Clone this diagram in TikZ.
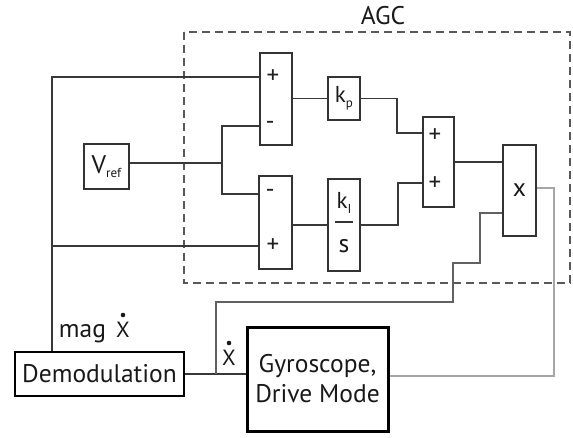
\documentclass[tikz,border=0pt]{standalone}
\usepackage{fontspec}
\setmainfont{PT Sans}
\newcommand{\mysub}[2]{{\fontsize{#1}{#1}\selectfont\raisebox{-0.35em}{#2}}}
\begin{document}
\begin{tikzpicture}[x=1pt,y=-1pt,
  blk/.style={draw=black!80, line width=1.5pt, inner sep=0pt},
  wire/.style={draw=black!78, line width=1.2pt},
  fb/.style={draw=black!62, line width=1.2pt},
  gw/.style={draw=black!35, line width=1.2pt},
  agcbox/.style={draw=black!65, line width=1.4pt, dash pattern=on 8pt off 5pt},
  lbl/.style={inner sep=0pt, text=black!90, font=\fontsize{25.5}{30}\selectfont},
  sgn/.style={inner sep=0pt, text=black!88, font=\fontsize{25}{26}\selectfont},
  dotx/.style={inner sep=0pt, text=black!90, font=\fontsize{22}{24}\selectfont}]
\useasboundingbox (0,0) rectangle (573,437);

% AGC frame
\draw[agcbox] (184,32) rectangle (570,283);
\node[lbl] (agc) at (383,16) {AGC};

% blocks
\node[blk, minimum width=32pt, minimum height=92pt] (s1) at (276,99) {};
\node[blk, minimum width=33pt, minimum height=93pt] (s2) at (275.5,222.5) {};
\node[blk, minimum width=32pt, minimum height=43pt, lbl, font=\fontsize{23}{26}\selectfont] (kp) at (344,98.5) {k\mysub{13}{p}};
\node[blk, minimum width=32pt, minimum height=92pt] (ki) at (344,225) {};
\node[blk, minimum width=31pt, minimum height=90pt] (s3) at (438.5,162) {};
\node[blk, minimum width=33pt, minimum height=91pt, lbl] (xb) at (519.5,190.5) {x};
\node[blk, minimum width=45pt, minimum height=45pt, lbl] (vref) at (106.5,166.5) {V\mysub{13}{ref}};
\node[blk, line width=2.2pt, draw=black, minimum width=169pt, minimum height=44pt, lbl] (demod) at (99.5,374) {Demodulation};
\node[blk, line width=3pt, draw=black, minimum width=141pt, minimum height=104pt, lbl, align=center] (gyro) at (317.5,379) {Gyroscope,\\Drive Mode};

% signs
\node[sgn] (p1) at (273,77) {+};
\node[sgn] (m1) at (270,125) {-};
\node[sgn] (m2) at (270,193) {-};
\node[sgn] (p2) at (273,246) {+};
\node[sgn] (p3) at (435,136) {+};
\node[sgn] (p4) at (435,184) {+};

% ki / s
\node[lbl, font=\fontsize{23}{26}\selectfont] (kin) at (344,203) {k\mysub{13}{I}};
\draw[black!80, line width=1.8pt] (335,222) -- (353,222);
\node[lbl] (kis) at (344,246) {s};

% left feedback to summers
\coordinate (lx) at (52,77);
\coordinate (lb) at (52,246);
\draw[wire] (demod.north -| lx) -- (lx) -- (lx -| s1.west);
\draw[wire] (lb) -- (lb -| s2.west);

% Vref distribution
\coordinate (j) at (222,163);
\coordinate (ju) at (222,126);
\coordinate (jd) at (222,194);
\draw[wire] (vref.east |- j) -- (j);
\draw[wire] (ju -| s1.west) -- (ju) -- (jd) -- (jd -| s2.west);

% kp and ki paths
\draw[wire] (s1.east |- kp.west) -- (kp.west);
\coordinate (k1) at (397,133);
\draw[wire] (kp.east) -| (k1) -- (k1 -| s3.west);
\draw[wire] (s2.east |- ki.west) -- (ki.west);
\coordinate (k2) at (398,183);
\draw[wire] (ki.east) -| (k2) -- (k2 -| s3.west);
\draw[wire] (s3.east) -- (s3.east -| xb.west);

% demod - gyro
\draw[wire] (demod.east) -- (demod.east -| gyro.west);
\coordinate (f1) at (216,374);
\coordinate (f2) at (453,302);
\coordinate (f3) at (480,263);
\coordinate (f4) at (480,213);
\draw[fb] (f1) |- (f2) |- (f3) -- (f4) -- (f4 -| xb.west);

% gyro output to multiplier
\coordinate (g0) at (554,376);
\coordinate (g1) at (554,188);
\draw[gw] (g0 -| gyro.east) -- (g0) -- (g1) -- (g1 -| xb.east);

% dot-x labels
\node[lbl, anchor=base] (mag) at (82.5,337) {mag};
\node[dotx, anchor=base] (mx) at (123,337) {X};
\fill[black!90] (123,315) circle (2.3pt);
\node[dotx, anchor=base] (gx) at (229,365) {X};
\fill[black!90] (229,343) circle (2.3pt);
\end{tikzpicture}
\end{document}
